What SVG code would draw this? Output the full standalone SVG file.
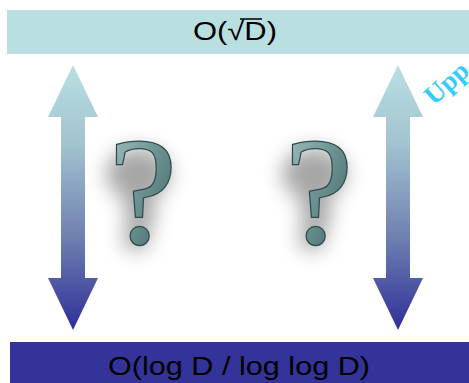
<svg xmlns="http://www.w3.org/2000/svg" width="469" height="383" viewBox="0 0 469 383">
  <defs>
    <linearGradient id="arrowFill" x1="0" y1="0" x2="0" y2="265" gradientUnits="userSpaceOnUse">
      <stop offset="0" stop-color="#b9dfe2"/>
      <stop offset="0.3" stop-color="#a2c3d0"/>
      <stop offset="0.65" stop-color="#6f80b0"/>
      <stop offset="1" stop-color="#2f2f98"/>
    </linearGradient>
    <linearGradient id="qFill" x1="0" y1="0" x2="1" y2="1">
      <stop offset="0" stop-color="#a9c6c6"/>
      <stop offset="0.45" stop-color="#6f9696"/>
      <stop offset="1" stop-color="#395a5a"/>
    </linearGradient>
    <filter id="soft" x="-50%" y="-50%" width="200%" height="200%">
      <feGaussianBlur stdDeviation="10"/>
    </filter>
    <path id="dblArrow" d="M0,0 L25,52 L12,52 L12,213 L25,213 L0,265 L-25,213 L-12,213 L-12,52 L-25,52 Z"/>
    <!-- soft grey halo placed behind each question mark -->
    <g id="qHalo" filter="url(#soft)" fill="#777" opacity="0.65">
      <ellipse cx="-4" cy="-70" rx="32" ry="26"/>
      <ellipse cx="-2" cy="-35" rx="15" ry="27"/>
      <ellipse cx="-6" cy="-6" rx="13" ry="13"/>
    </g>
  </defs>
  <style>
    .bar-text { font-family: "Liberation Sans", Arial, sans-serif; fill: #000; text-anchor: middle; }
    .q { font-family: "Liberation Serif", "Times New Roman", serif; font-size: 152px; text-anchor: middle;
         fill: url(#qFill); stroke: #2e4a4a; stroke-width: 2.5; paint-order: stroke; }
  </style>

  <rect width="469" height="383" fill="#ffffff"/>

  <g id="top-bar">
    <rect x="7" y="10" width="462" height="44" fill="#b9dfe1"/>
    <text class="bar-text" x="235" y="40" font-size="26" textLength="84" lengthAdjust="spacingAndGlyphs">O(√D)</text>
    <line x1="240" y1="19" x2="262" y2="19" stroke="#000" stroke-width="1.5"/>
  </g>

  <g id="bottom-bar">
    <rect x="10" y="342" width="459" height="41" fill="#333399"/>
    <text class="bar-text" x="239" y="375" font-size="25" textLength="262" lengthAdjust="spacingAndGlyphs">O(log D / log log D)</text>
  </g>

  <g id="connectors">
    <use href="#dblArrow" x="73" y="65" fill="url(#arrowFill)"/>
    <use href="#dblArrow" x="398" y="65" fill="url(#arrowFill)"/>
  </g>

  <g id="question-left">
    <use href="#qHalo" x="142" y="244"/>
    <text class="q" x="143" y="243">?</text>
  </g>

  <g id="question-right">
    <use href="#qHalo" x="318" y="244"/>
    <text class="q" x="319" y="243">?</text>
  </g>

  <g id="upper-label">
    <text x="434" y="106" transform="rotate(-42 434 106)" font-family="Liberation Serif, serif" font-weight="bold" font-size="27" fill="#33ccff">Upp</text>
  </g>
</svg>
